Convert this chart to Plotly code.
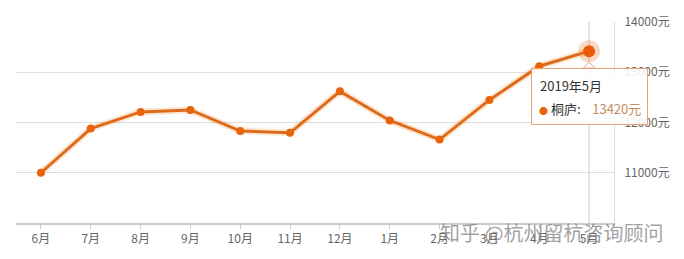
import plotly.graph_objects as go

months = ["6月", "7月", "8月", "9月", "10月", "11月", "12月", "1月", "2月", "3月", "4月", "5月"]
prices = [11000, 11880, 12210, 12250, 11830, 11795, 12620, 12040, 11660, 12450, 13120, 13420]
series_name = "桐庐"
tooltip_title = "2019年5月"
y_ticks = [11000, 12000, 13000, 14000]
y_tick_text = [f"{v}元" for v in y_ticks]

line_color = "#de6a1c"
marker_color = "#e8640c"

fig = go.Figure()
# soft glow under the line
fig.add_trace(go.Scatter(x=months, y=prices, mode="lines",
                         line=dict(color="rgba(245,150,70,0.22)", width=7),
                         hoverinfo="skip", showlegend=False))
fig.add_trace(go.Scatter(x=months, y=prices, mode="lines+markers",
                         line=dict(color=line_color, width=3),
                         marker=dict(color=marker_color, size=8),
                         hoverinfo="skip", showlegend=False))
# highlighted last point with halo
fig.add_trace(go.Scatter(x=months[-1:], y=prices[-1:], mode="markers",
                         marker=dict(color="rgba(240,130,60,0.30)", size=22),
                         hoverinfo="skip", showlegend=False))
fig.add_trace(go.Scatter(x=months[-1:], y=prices[-1:], mode="markers",
                         marker=dict(color="#ec5a0a", size=12),
                         hoverinfo="skip", showlegend=False))

# crosshair
fig.add_shape(type="line", xref="x", yref="paper", x0=months[-1], x1=months[-1], y0=0, y1=1,
              line=dict(color="#cccccc", width=1), layer="below")

# tooltip notch (pixel offsets from the hovered point)
fig.add_shape(type="path", xref="x", yref="y", xsizemode="pixel", ysizemode="pixel",
              xanchor=months[-1], yanchor=prices[-1],
              path="M -6,-17 L 0,-11 L 6,-17 Z",
              fillcolor="white", line=dict(color="#e3a477", width=1), layer="above")

# tooltip box
fig.add_annotation(x=months[-1], y=prices[-1], xref="x", yref="y",
                   xanchor="center", yanchor="top", yshift=-17, xshift=0.5, showarrow=False,
                   text=" ", width=115, height=55, borderpad=0,
                   bgcolor="rgba(255,255,255,0.88)", bordercolor="#e3a477", borderwidth=1)

tip_font = dict(family="Noto Sans CJK SC", size=13, color="#333333")
fig.add_annotation(x=months[-1], y=prices[-1], xref="x", yref="y",
                   xanchor="left", yanchor="middle", xshift=-51, yshift=-34, showarrow=False,
                   text=tooltip_title, font=tip_font)
fig.add_annotation(x=months[-1], y=prices[-1], xref="x", yref="y",
                   xanchor="left", yanchor="middle", xshift=-52, yshift=-57, showarrow=False,
                   text=(f"<span style='color:{marker_color};font-size:9px'>●</span> {series_name}:    "
                         f"<span style='color:#c88a5e'>{prices[-1]}元</span>"),
                   font=tip_font)

# watermark
fig.add_annotation(x=0.895, y=-0.045, xref="paper", yref="paper", xanchor="center", yanchor="middle",
                   showarrow=False, text="知乎 @杭州留杭咨询顾问",
                   font=dict(family="Noto Sans CJK SC", size=20, color="rgba(130,130,130,0.75)"))

fig.update_layout(
    width=684, height=259,
    margin=dict(l=16, r=70, t=22, b=36),
    paper_bgcolor="white", plot_bgcolor="white",
    font=dict(family="Noto Sans CJK SC", color="#666666", size=12),
    xaxis=dict(type="category", showgrid=False, showline=True, linecolor="#cccccc", linewidth=2,
               ticks="outside", ticklen=4, tickcolor="#cccccc", tickfont=dict(size=12, color="#666666"),
               range=[-0.5, len(months) - 0.5], fixedrange=True),
    yaxis=dict(side="right", range=[10000, 14000], tickvals=y_ticks, ticktext=y_tick_text,
               showgrid=True, gridcolor="#dddddd", gridwidth=1, zeroline=False,
               showline=True, linecolor="#dddddd", linewidth=1, ticks="", ticklabelstandoff=7,
               tickfont=dict(size=12, color="#666666"), fixedrange=True),
    hovermode=False,
)

fig.write_html("out.html")
